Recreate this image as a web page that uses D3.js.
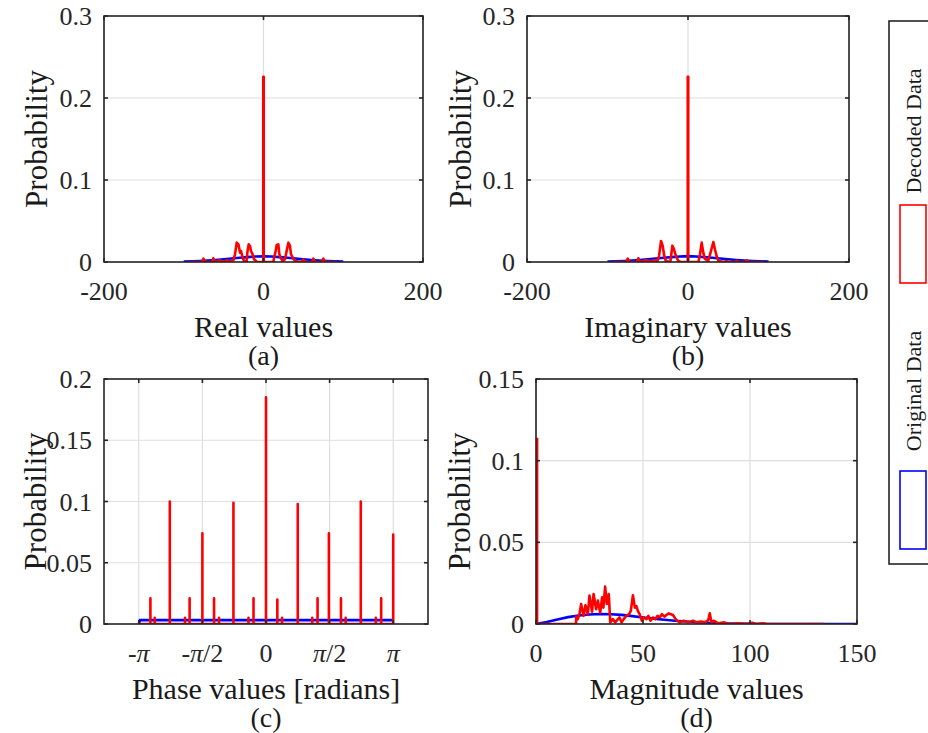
<!DOCTYPE html>
<html>
<head>
<meta charset="utf-8">
<script src="https://cdn.jsdelivr.net/npm/d3@7"></script>
<style>
  body { margin: 0; background: #fff; }
  text { font-family: "Liberation Serif", "DejaVu Serif", serif; fill: #262626; }
</style>
</head>
<body>
<script>
// ---- data ----
var realOriginal = [[-100,0.0005],[-90,0.0008],[-80,0.0012],[-70,0.0018],[-60,0.0025],[-50,0.0033],[-40,0.0042],[-30,0.0052],[-20,0.006],[-10,0.0067],[0,0.007],[10,0.0067],[20,0.006],[30,0.0052],[40,0.0042],[50,0.0033],[60,0.0025],[70,0.0018],[80,0.0012],[90,0.0008],[100,0.0005]];
var realDecoded = [[-94,0],[-77,0],[-75.4,0.0041],[-73.5,0],[-64.5,0],[-62.9,0.0045],[-61,0],[-54.5,0.002],[-50,0.0005],[-46.2,0.002],[-42,0.0008],[-37.8,0.002],[-35.7,0.0094],[-33.6,0.0236],[-31.5,0.0215],[-29.4,0.0114],[-28.2,0.0134],[-26.1,0.0053],[-24.4,0.0012],[-21.1,0],[-20.3,0.0114],[-18.6,0.0215],[-16.9,0.0195],[-15.7,0.0134],[-13.6,0.0094],[-11.9,0.0033],[-9.4,0.0012],[-8.6,0],[-0.3,0],[-0.3,0.226],[0.3,0.226],[0.3,0],[12.4,0],[13.2,0.0053],[14.9,0.0114],[16.5,0.0207],[18.6,0.0215],[19.9,0.0094],[21.5,0.0053],[24,0.0012],[27,0.0033],[29,0.0134],[31.2,0.0236],[33.2,0.0195],[34.5,0.0094],[36.6,0.0053],[39.5,0.0012],[48,0],[49.9,0.0033],[52,0],[61,0],[62.5,0.0041],[64.5,0],[73.5,0],[75,0.0041],[77,0],[91.8,0]];
var imagOriginal = [[-100,0.0005],[-90,0.0008],[-80,0.0012],[-70,0.0018],[-60,0.0025],[-50,0.0033],[-40,0.0042],[-30,0.0052],[-20,0.006],[-10,0.0068],[0,0.0072],[10,0.0068],[20,0.006],[30,0.0052],[40,0.0042],[50,0.0033],[60,0.0025],[70,0.0018],[80,0.0012],[90,0.0008],[100,0.0005]];
var imagDecoded = [[-92.7,0],[-76.5,0],[-74.9,0.0041],[-73,0],[-63.5,0],[-61.7,0.0045],[-60,0],[-52,0.002],[-47,0.0008],[-42,0.002],[-38,0.001],[-36,0.0073],[-33.5,0.0256],[-31.4,0.0195],[-29.5,0.0073],[-27.5,0.0012],[-22,0],[-21,0.0073],[-19.4,0.0199],[-17.4,0.0154],[-15,0.0073],[-12,0.0012],[-9,0],[-0.3,0],[-0.3,0.226],[0.3,0.226],[0.3,0],[13,0],[14.9,0.0094],[17,0.0236],[19,0.0114],[21,0.004],[25,0.001],[28,0.0114],[31.5,0.0244],[33.5,0.0154],[35.5,0.0073],[38,0.0012],[45,0],[47.5,0.0012],[50,0],[58,0],[60.5,0.0012],[63,0],[71,0],[72.9,0.002],[75,0],[93.6,0]];
var phaseSpikeX = [-2.854,-2.747,-2.375,-2.0,-1.886,-1.571,-1.283,-1.159,-0.804,-0.432,-0.308,0,0.28,0.397,0.784,1.141,1.273,1.553,1.851,1.968,2.34,2.712,2.844,3.141];
var phaseSpikeY = [0.021,0.005,0.1,0.005,0.021,0.074,0.021,0.005,0.099,0.005,0.021,0.185,0.02,0.005,0.098,0.005,0.021,0.074,0.021,0.005,0.1,0.005,0.021,0.073];
var phaseOriginal = [[-3.1416,0],[-3.11,0.0032],[3.11,0.0032],[3.13,0.0032]];
var magOriginal = [[0,0],[5,0.0012],[10,0.0028],[15,0.0042],[20,0.0052],[25,0.0058],[30,0.0061],[35,0.006],[40,0.0056],[45,0.0048],[50,0.004],[55,0.0033],[60,0.0026],[65,0.002],[70,0.0015],[75,0.0011],[80,0.0008],[85,0.0005],[90,0.0003],[100,0.0001],[110,0],[155,0]];
var magDecoded = [[0.5,0.114],[0.5,0],[18.7,0],[18.8,0.0045],[19.5,0.003],[20.3,0.006],[21.1,0.0123],[22.2,0.005],[23.1,0.0115],[24.2,0.006],[25,0.0174],[26.2,0.0075],[26.9,0.0184],[28.1,0.009],[28.9,0.0143],[30,0.007],[30.9,0.0163],[31.5,0.01],[32.3,0.0229],[33.1,0.0123],[34,0.0184],[34.7,0.001],[35.9,0.003],[37,0.001],[39,0.004],[40,0.001],[41,0.003],[42.2,0.005],[43.5,0.006],[44.3,0.008],[45.3,0.0176],[46.2,0.01],[46.9,0.011],[47.6,0.008],[48.4,0.006],[49.5,0.002],[50.5,0.004],[51.6,0.003],[52.5,0.005],[53.5,0.002],[54.7,0.004],[55.8,0.003],[56.8,0.005],[57.8,0.004],[58.8,0.006],[60,0.0045],[60.9,0.0055],[62,0.0065],[63,0.006],[64,0.0055],[65,0.0035],[66,0.002],[67.2,0.001],[69,0.002],[71,0.001],[73.4,0.002],[75,0.001],[77,0.0015],[79,0.001],[80.5,0.0025],[81.2,0.0065],[82,0.001],[83,0.002],[85,0.0005],[88,0.001],[90,0],[95,0.0005],[98.4,0],[101,0.0007],[103,0],[106.2,0.0005],[108,0],[134.4,0]];

var realTicks = [-200, 0, 200];
var probTicks3 = [0, 0.1, 0.2, 0.3];
var phaseTicks = [-Math.PI, -Math.PI/2, 0, Math.PI/2, Math.PI];
var phaseTickLabels = [["-","\u03C0",""],["-","\u03C0","/2"],["0","",""],["","\u03C0","/2"],["","\u03C0",""]];
var probTicks2 = [0, 0.05, 0.1, 0.15, 0.2];
var magTicks = [0, 50, 100, 150];
var probTicks15 = [0, 0.05, 0.1, 0.15];
var legendLabels = ["Decoded Data", "Original Data"];
var seriesColors = ["#ff0000", "#0000ff"];

// build the stem path for the phase panel
var phaseDecoded = [[-Math.PI, 0]];
phaseSpikeX.forEach(function(x, i) {
    phaseDecoded.push([x, 0], [x, phaseSpikeY[i]], [x, 0]);
});

var svg = d3.select("body").append("svg")
    .attr("width", 928).attr("height", 733);

var panels = [
    {name: "a", left: 104, right: 423, top: 16, bottom: 262, xDomain: [-200, 200], yDomain: [0, 0.3],
     xTicks: realTicks, yTicks: probTicks3, xlabel: "Real values", sub: "(a)", ylabelGap: 57,
     original: realOriginal, decoded: realDecoded},
    {name: "b", left: 527, right: 849, top: 16, bottom: 262, xDomain: [-200, 200], yDomain: [0, 0.3],
     xTicks: realTicks, yTicks: probTicks3, xlabel: "Imaginary values", sub: "(b)", ylabelGap: 56,
     original: imagOriginal, decoded: imagDecoded},
    {name: "c", left: 104, right: 428, top: 379, bottom: 624, xDomain: [-4, 4], yDomain: [0, 0.2],
     xTicks: phaseTicks, yTicks: probTicks2, xlabel: "Phase values [radians]", sub: "(c)", ylabelGap: 58,
     original: phaseOriginal, decoded: phaseDecoded, piLabels: phaseTickLabels},
    {name: "d", left: 536, right: 857, top: 379, bottom: 624, xDomain: [0, 150], yDomain: [0, 0.15],
     xTicks: magTicks, yTicks: probTicks15, xlabel: "Magnitude values", sub: "(d)", ylabelGap: 66,
     original: magOriginal, decoded: magDecoded}
];

panels.forEach(drawPanel);

function drawPanel(p) {
    var x = d3.scaleLinear().domain(p.xDomain).range([p.left, p.right]);
    var y = d3.scaleLinear().domain(p.yDomain).range([p.bottom, p.top]);
    var g = svg.append("g");

    // grid
    g.selectAll(".gx").data(p.xTicks).enter().append("line")
        .attr("x1", d => x(d)).attr("x2", d => x(d))
        .attr("y1", p.top).attr("y2", p.bottom)
        .attr("stroke", "#dedede").attr("stroke-width", 1.2);
    g.selectAll(".gy").data(p.yTicks).enter().append("line")
        .attr("x1", p.left).attr("x2", p.right)
        .attr("y1", d => y(d)).attr("y2", d => y(d))
        .attr("stroke", "#dedede").attr("stroke-width", 1.2);

    // series
    g.append("clipPath").attr("id", "clip-" + p.name)
        .append("rect").attr("x", p.left).attr("y", p.top)
        .attr("width", p.right - p.left).attr("height", p.bottom - p.top);
    var line = d3.line().x(d => x(d[0])).y(d => y(d[1]));
    g.append("path").datum(p.original)
        .attr("d", line).attr("fill", "none")
        .attr("stroke", seriesColors[1]).attr("stroke-width", 2.6)
        .attr("clip-path", "url(#clip-" + p.name + ")");
    g.append("path").datum(p.decoded)
        .attr("d", line).attr("fill", "none")
        .attr("stroke", seriesColors[0]).attr("stroke-width", 2.6)
        .attr("stroke-linejoin", "round")
        .attr("clip-path", "url(#clip-" + p.name + ")");

    // box and inward ticks
    g.append("rect").attr("x", p.left).attr("y", p.top)
        .attr("width", p.right - p.left).attr("height", p.bottom - p.top)
        .attr("fill", "none").attr("stroke", "#262626").attr("stroke-width", 1.6);
    var tl = 4;
    p.xTicks.forEach(function(t) {
        g.append("line").attr("x1", x(t)).attr("x2", x(t)).attr("y1", p.bottom).attr("y2", p.bottom - tl)
            .attr("stroke", "#262626").attr("stroke-width", 1.6);
        g.append("line").attr("x1", x(t)).attr("x2", x(t)).attr("y1", p.top).attr("y2", p.top + tl)
            .attr("stroke", "#262626").attr("stroke-width", 1.6);
    });
    p.yTicks.forEach(function(t) {
        g.append("line").attr("x1", p.left).attr("x2", p.left + tl).attr("y1", y(t)).attr("y2", y(t))
            .attr("stroke", "#262626").attr("stroke-width", 1.6);
        g.append("line").attr("x1", p.right).attr("x2", p.right - tl).attr("y1", y(t)).attr("y2", y(t))
            .attr("stroke", "#262626").attr("stroke-width", 1.6);
    });

    // tick labels
    g.selectAll(".yl").data(p.yTicks).enter().append("text")
        .attr("x", p.left - 12).attr("y", d => y(d))
        .attr("dy", "0.35em").attr("text-anchor", "end")
        .style("font-size", "26px")
        .text(d => d3.format("")(d));
    var xl = g.selectAll(".xl").data(p.xTicks).enter().append("text")
        .attr("x", d => x(d)).attr("y", p.bottom + 38)
        .attr("text-anchor", "middle")
        .style("font-size", "26px");
    if (p.piLabels) {
        xl.each(function(d, i) {
            var parts = p.piLabels[i];
            var t = d3.select(this);
            t.append("tspan").text(parts[0]);
            if (parts[1]) t.append("tspan").style("font-style", "italic").text(parts[1]);
            if (parts[2]) t.append("tspan").text(parts[2]);
        });
    } else {
        xl.text(d => d);
    }

    // axis titles
    var cx = (p.left + p.right) / 2;
    g.append("text").attr("x", cx).attr("y", p.bottom + 75)
        .attr("text-anchor", "middle").style("font-size", "30px").style("fill", "#1a1a1a")
        .text(p.xlabel);
    g.append("text").attr("x", cx).attr("y", p.bottom + 103)
        .attr("text-anchor", "middle").style("font-size", "28px").style("fill", "#1a1a1a")
        .text(p.sub);
    g.append("text")
        .attr("transform", "translate(" + (p.left - p.ylabelGap) + "," + ((p.top + p.bottom) / 2) + ") rotate(-90)")
        .attr("text-anchor", "middle").style("font-size", "31px").style("fill", "#1a1a1a")
        .text("Probability");
}

// legend
var leg = svg.append("g");
leg.append("rect").attr("x", 889).attr("y", 21).attr("width", 60).attr("height", 543)
    .attr("fill", "none").attr("stroke", "#262626").attr("stroke-width", 1.6);
var legendY = [[131, 205], [391, 471]];
legendLabels.forEach(function(lab, i) {
    leg.append("text")
        .attr("transform", "translate(921," + legendY[i][0] + ") rotate(-90)")
        .attr("text-anchor", "middle").style("font-size", "22px").style("fill", "#1a1a1a")
        .text(lab);
    leg.append("rect").attr("x", 900).attr("y", legendY[i][1]).attr("width", 26).attr("height", 78)
        .attr("fill", "none").attr("stroke", seriesColors[i]).attr("stroke-width", 1.6);
});
</script>
</body>
</html>
